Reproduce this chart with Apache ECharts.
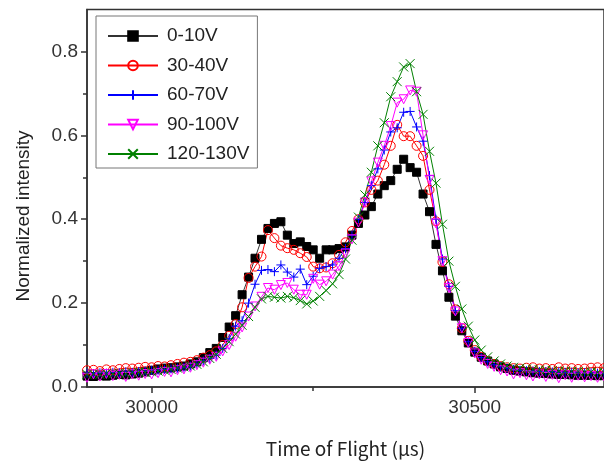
<!DOCTYPE html>
<html>
<head>
<meta charset="utf-8">
<script src="https://cdn.jsdelivr.net/npm/echarts@6/dist/echarts.min.js"></script>
<style>
  html, body { margin: 0; padding: 0; background: #fff; }
  #chart { width: 604px; height: 463px; }
</style>
</head>
<body>
<div id="chart"></div>
<script>
// Time of flight sample positions (µs)
const tof = [
  29900, 29910, 29920, 29930, 29940, 29950, 29960, 29970, 29980, 29990,
  30000, 30010, 30020, 30030, 30040, 30050, 30060, 30070, 30080, 30090,
  30100, 30110, 30120, 30130, 30140, 30150, 30160, 30170, 30180, 30190,
  30200, 30210, 30220, 30230, 30240, 30250, 30260, 30270, 30280, 30290,
  30300, 30310, 30320, 30330, 30340, 30350, 30360, 30370, 30380, 30390,
  30400, 30410, 30420, 30430, 30440, 30450, 30460, 30470, 30480, 30490,
  30500, 30510, 30520, 30530, 30540, 30550, 30560, 30570, 30580, 30590,
  30600, 30610, 30620, 30630, 30640, 30650, 30660, 30670, 30680, 30690,
  30700
];

// Normalized intensity for each voltage window
const v0_10 = [
  0.026, 0.025, 0.027, 0.026, 0.028, 0.030, 0.029, 0.031, 0.033, 0.036,
  0.040, 0.043, 0.045, 0.046, 0.048, 0.050, 0.055, 0.060, 0.070, 0.082,
  0.092, 0.118, 0.143, 0.170, 0.220, 0.262, 0.307, 0.352, 0.378, 0.390,
  0.394, 0.362, 0.342, 0.346, 0.335, 0.327, 0.307, 0.327, 0.327, 0.330,
  0.334, 0.362, 0.390, 0.410, 0.430, 0.460, 0.480, 0.492, 0.519, 0.543,
  0.523, 0.512, 0.460, 0.418, 0.340, 0.277, 0.214, 0.169, 0.134, 0.105,
  0.083, 0.071, 0.062, 0.055, 0.048, 0.044, 0.040, 0.038, 0.036, 0.034,
  0.033, 0.032, 0.031, 0.030, 0.030, 0.029, 0.028, 0.028, 0.028, 0.027,
  0.027
];
const v30_40 = [
  0.040, 0.041, 0.038, 0.042, 0.040, 0.043, 0.045, 0.044, 0.046, 0.048,
  0.047, 0.050, 0.049, 0.052, 0.055, 0.058, 0.060, 0.064, 0.070, 0.076,
  0.085, 0.100, 0.122, 0.150, 0.190, 0.260, 0.287, 0.311, 0.374, 0.355,
  0.337, 0.331, 0.327, 0.319, 0.310, 0.287, 0.283, 0.285, 0.295, 0.315,
  0.345, 0.372, 0.400, 0.440, 0.470, 0.492, 0.530, 0.575, 0.625, 0.598,
  0.598, 0.575, 0.551, 0.470, 0.395, 0.298, 0.245, 0.185, 0.140, 0.110,
  0.088, 0.072, 0.062, 0.055, 0.050, 0.047, 0.045, 0.044, 0.046, 0.047,
  0.044, 0.045, 0.043, 0.047, 0.044, 0.045, 0.043, 0.044, 0.046, 0.047,
  0.045
];
const v60_70 = [
  0.033, 0.032, 0.034, 0.033, 0.035, 0.034, 0.036, 0.035, 0.037, 0.038,
  0.040, 0.040, 0.042, 0.043, 0.045, 0.047, 0.050, 0.055, 0.062, 0.068,
  0.076, 0.092, 0.115, 0.145, 0.158, 0.200, 0.245, 0.278, 0.280, 0.275,
  0.291, 0.274, 0.262, 0.281, 0.244, 0.264, 0.283, 0.287, 0.291, 0.307,
  0.330, 0.362, 0.400, 0.440, 0.480, 0.520, 0.565, 0.608, 0.618, 0.655,
  0.657, 0.620, 0.586, 0.504, 0.400, 0.305, 0.240, 0.182, 0.140, 0.108,
  0.085, 0.070, 0.060, 0.053, 0.048, 0.045, 0.042, 0.040, 0.039, 0.038,
  0.037, 0.037, 0.036, 0.036, 0.035, 0.035, 0.034, 0.034, 0.034, 0.033,
  0.033
];
const v90_100 = [
  0.022, 0.030, 0.025, 0.031, 0.026, 0.029, 0.024, 0.030, 0.027, 0.031,
  0.030, 0.033, 0.036, 0.035, 0.040, 0.042, 0.046, 0.052, 0.058, 0.065,
  0.072, 0.085, 0.100, 0.120, 0.142, 0.168, 0.192, 0.215, 0.236, 0.232,
  0.243, 0.248, 0.232, 0.220, 0.220, 0.258, 0.244, 0.252, 0.268, 0.288,
  0.318, 0.352, 0.392, 0.440, 0.490, 0.535, 0.575, 0.622, 0.678, 0.686,
  0.707, 0.704, 0.600, 0.494, 0.390, 0.300, 0.236, 0.180, 0.140, 0.105,
  0.080, 0.065, 0.055, 0.048, 0.040, 0.037, 0.030, 0.033, 0.028, 0.025,
  0.030, 0.024, 0.029, 0.021, 0.028, 0.022, 0.027, 0.023, 0.026, 0.022,
  0.025
];
const v120_130 = [
  0.030, 0.031, 0.030, 0.032, 0.031, 0.033, 0.032, 0.034, 0.035, 0.035,
  0.036, 0.038, 0.040, 0.042, 0.045, 0.048, 0.050, 0.054, 0.060, 0.068,
  0.078, 0.092, 0.108, 0.126, 0.147, 0.168, 0.190, 0.210, 0.216, 0.214,
  0.212, 0.216, 0.213, 0.206, 0.198, 0.205, 0.216, 0.230, 0.246, 0.268,
  0.305, 0.350, 0.405, 0.458, 0.512, 0.575, 0.630, 0.692, 0.728, 0.763,
  0.771, 0.704, 0.650, 0.562, 0.486, 0.388, 0.300, 0.240, 0.186, 0.145,
  0.112, 0.088, 0.072, 0.062, 0.055, 0.050, 0.047, 0.045, 0.043, 0.042,
  0.041, 0.040, 0.039, 0.038, 0.038, 0.037, 0.037, 0.036, 0.036, 0.035,
  0.035
];

const seriesNames = ['0-10V', '30-40V', '60-70V', '90-100V', '120-130V'];
const xTickLabels = [30000, 30500];
const xMinorTicks = [30250];
const yTickLabels = [0.0, 0.2, 0.4, 0.6, 0.8];
const yMinorTicks = [0.1, 0.3, 0.5, 0.7];

const AXIS = '#333';
const TICK_FONT = "'Liberation Sans', Arial, sans-serif";
const TITLE_FONT = "'Noto Sans CJK JP', sans-serif";

const plusPath = 'path://M0,5H10M5,0V10';
const crossPath = 'path://M0,0L10,10M10,0L0,10';

function pairs(values) {
  return tof.map((t, i) => [t, values[i]]);
}

function lineSeries(name, values, color, symbol, size, fill, extra) {
  return Object.assign({
    name: name,
    type: 'line',
    data: pairs(values),
    xAxisIndex: 0,
    yAxisIndex: 0,
    symbol: symbol,
    symbolSize: size,
    showAllSymbol: true,
    lineStyle: { color: color, width: 1 },
    itemStyle: { color: fill, borderColor: color, borderWidth: 1 },
    emphasis: { disabled: true },
    animation: false
  }, extra || {});
}

const chart = echarts.init(document.getElementById('chart'), null, { renderer: 'canvas' });

chart.setOption({
  animation: false,
  backgroundColor: '#fff',
  grid: {
    left: 87, right: -1, top: 9.5, bottom: 73,
    show: true, borderColor: AXIS, borderWidth: 1.5, backgroundColor: 'transparent'
  },
  legend: {
    data: seriesNames,
    orient: 'vertical',
    left: 96, top: 16,
    padding: [10, 8, 4, 11],
    itemWidth: 50,
    itemHeight: 12,
    itemGap: 9.5,
    borderColor: '#777',
    borderWidth: 1,
    backgroundColor: '#fff',
    textStyle: { fontSize: 19, color: '#222', fontFamily: TICK_FONT, lineHeight: 20, padding: [0, 0, 0, 4] },
    selectedMode: false
  },
  // vertical axis title
  graphic: [{
    type: 'text',
    x: 24,
    y: 216,
    rotation: Math.PI / 2,
    silent: true,
    style: {
      text: 'Normalized intensity',
      fontSize: 19,
      fontFamily: TICK_FONT,
      fill: '#222',
      align: 'center',
      verticalAlign: 'middle'
    }
  }],
  xAxis: [
    {
      type: 'value', min: 29900, max: 30700,
      axisLine: { show: true, onZero: false, lineStyle: { color: AXIS, width: 1.5 } },
      axisTick: { show: true, length: 6, customValues: xTickLabels, lineStyle: { color: AXIS, width: 1.5 } },
      axisLabel: {
        customValues: xTickLabels, fontSize: 19, color: '#333', margin: 11, fontFamily: TICK_FONT,
        formatter: v => String(Math.round(v))
      },
      splitLine: { show: false },
      name: 'Time of Flight (μs)',
      nameLocation: 'middle',
      nameGap: 52,
      nameTextStyle: { fontSize: 19, color: '#222', fontFamily: TITLE_FONT }
    },
    {
      type: 'value', min: 29900, max: 30700, position: 'bottom',
      axisLine: { show: false },
      axisTick: { show: true, length: 4, customValues: xMinorTicks, lineStyle: { color: AXIS, width: 1.5 } },
      axisLabel: { show: false },
      splitLine: { show: false }
    }
  ],
  yAxis: [
    {
      type: 'value', min: 0, max: 0.9,
      axisLine: { show: true, onZero: false, lineStyle: { color: AXIS, width: 1.5 } },
      axisTick: { show: true, length: 6, customValues: yTickLabels, lineStyle: { color: AXIS, width: 1.5 } },
      axisLabel: {
        customValues: yTickLabels, fontSize: 19, color: '#333', margin: 9, fontFamily: TICK_FONT,
        formatter: v => Number(v).toFixed(1)
      },
      splitLine: { show: false }
    },
    {
      type: 'value', min: 0, max: 0.9, position: 'left',
      axisLine: { show: false },
      axisTick: { show: true, length: 4, customValues: yMinorTicks, lineStyle: { color: AXIS, width: 1.5 } },
      axisLabel: { show: false },
      splitLine: { show: false }
    }
  ],
  series: [
    lineSeries(seriesNames[0], v0_10, '#000000', 'rect', 8, '#000000', { lineStyle: { color: '#333', width: 1 } }),
    lineSeries(seriesNames[1], v30_40, '#ff0000', 'circle', 9, 'rgba(255,255,255,0)'),
    lineSeries(seriesNames[2], v60_70, '#0000ff', plusPath, 9, 'rgba(255,255,255,0)'),
    lineSeries(seriesNames[3], v90_100, '#ff00ff', 'triangle', 9, 'rgba(255,255,255,0)', { symbolRotate: 180 }),
    lineSeries(seriesNames[4], v120_130, '#008000', crossPath, 9, 'rgba(255,255,255,0)')
  ]
});
</script>
</body>
</html>
